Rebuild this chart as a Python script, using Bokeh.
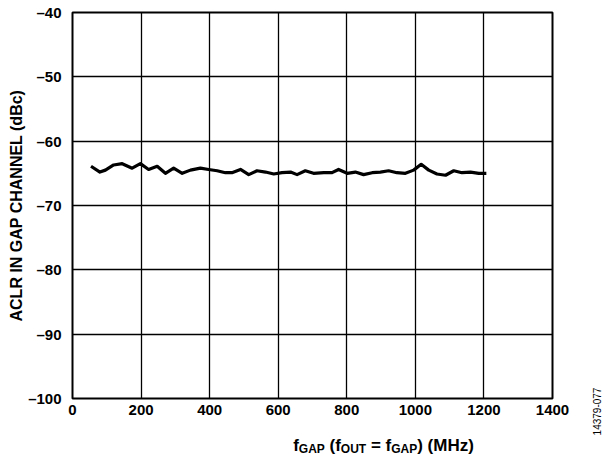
from bokeh.plotting import figure
from bokeh.models import FixedTicker, Range1d
from bokeh.layouts import row, column
from bokeh.core.properties import value
from bokeh.embed import file_html
from bokeh.resources import INLINE

# Data
freq_mhz = [54, 80, 96, 120, 145, 174, 198, 222, 247, 271, 295, 320, 344, 373, 397,
            422, 446, 465, 490, 514, 538, 563, 587, 611, 636, 655, 679, 703, 733,
            757, 776, 801, 825, 849, 874, 898, 922, 946, 971, 995, 1017, 1039, 1063,
            1088, 1112, 1136, 1161, 1185, 1207]
aclr_dbc = [-63.9, -64.8, -64.5, -63.7, -63.5, -64.2, -63.5, -64.4, -63.9, -65.0, -64.2,
            -65.0, -64.5, -64.2, -64.4, -64.6, -64.9, -64.9, -64.4, -65.2, -64.6, -64.8,
            -65.1, -64.9, -64.8, -65.2, -64.6, -65.0, -64.9, -64.9, -64.4, -65.0, -64.8,
            -65.2, -64.9, -64.8, -64.6, -64.9, -65.0, -64.5, -63.6, -64.5, -65.1, -65.3,
            -64.6, -64.9, -64.8, -65.0, -65.0]
x_ticks = [0, 200, 400, 600, 800, 1000, 1200, 1400]
y_ticks = [-100, -90, -80, -70, -60, -50, -40]
y_tick_labels = {t: "\u2013" + str(abs(t)) for t in y_ticks}
x_label_pieces = ["f", "GAP", " (f", "OUT", " = f", "GAP", ") (MHz)"]
x_label_is_sub = [False, True, False, True, False, True, False]
fig_code = "14379-077"

FONT = "Liberation Sans"
W_LEFT = 586   # width of main column
W_CODE = 22    # width of right strip
H_MAIN = 422
H_XLAB = 35

p = figure(frame_width=480, frame_height=386, output_backend="svg", toolbar_location=None,
           x_range=Range1d(0, 1400), y_range=Range1d(-100, -40),
           min_border_left=72, min_border_top=12, min_border_right=34, min_border_bottom=24,
           background_fill_color="white", border_fill_color="white")

p.outline_line_color = "black"
p.outline_line_width = 2

for ax in (p.xaxis[0], p.yaxis[0]):
    ax.axis_line_color = None
    ax.major_tick_line_color = None
    ax.minor_tick_line_color = None
    ax.major_tick_out = 0
    ax.major_tick_in = 0
    ax.minor_tick_out = 0
    ax.minor_tick_in = 0
    ax.major_label_text_font = FONT
    ax.major_label_text_font_style = "bold"
    ax.major_label_text_font_size = "15px"
    ax.major_label_text_color = "black"

p.xaxis.ticker = FixedTicker(ticks=x_ticks)
p.yaxis.ticker = FixedTicker(ticks=y_ticks)
p.yaxis.major_label_overrides = y_tick_labels
p.xaxis.major_label_standoff = 6
p.yaxis.major_label_standoff = 11

p.yaxis.axis_label = "ACLR IN GAP CHANNEL (dBc)"
p.yaxis.axis_label_text_font = FONT
p.yaxis.axis_label_text_font_style = "bold"
p.yaxis.axis_label_text_font_size = "16px"
p.yaxis.axis_label_text_color = "black"
p.yaxis.axis_label_standoff = 0

for g in (p.xgrid[0], p.ygrid[0]):
    g.grid_line_color = "black"
    g.grid_line_width = 1.3
    g.grid_line_alpha = 1.0
p.xgrid.ticker = FixedTicker(ticks=x_ticks)
p.ygrid.ticker = FixedTicker(ticks=y_ticks)

p.line(freq_mhz, aclr_dbc, line_color="black", line_width=3.2, line_join="round")

# x-axis title with subscripts, in a strip below the main plot (pixel coordinates)
px = figure(frame_width=W_LEFT, frame_height=H_XLAB, output_backend="svg",
            toolbar_location=None, x_axis_type=None, y_axis_type=None,
            x_range=Range1d(0, W_LEFT), y_range=Range1d(0, H_XLAB),
            min_border=0, outline_line_color=None,
            background_fill_color="white", border_fill_color="white")
widths = {'f': 333, 'G': 778, 'A': 722, 'P': 667, ' ': 278, '(': 333, ')': 333,
          'O': 778, 'U': 722, 'T': 611, '=': 584, 'M': 833, 'H': 722, 'z': 500}
main_size, sub_size = 17, 12


def text_w(t, size):
    return sum(widths[c] for c in t) * size / 1000.0


total = sum(text_w(t, sub_size if s else main_size)
            for t, s in zip(x_label_pieces, x_label_is_sub))
cur = 311 - total / 2.0
for txt, sub in zip(x_label_pieces, x_label_is_sub):
    size = sub_size if sub else main_size
    stripped = txt.lstrip(" ")
    lead = text_w(txt[:len(txt) - len(stripped)], size)
    px.text(x=[cur + lead], y=[8.5 if sub else 12], text=[stripped], text_font=value(FONT),
            text_font_style="bold", text_font_size=value(f"{size}px"),
            text_color="black", text_align="left", text_baseline="alphabetic")
    cur += text_w(txt, size)

# figure code, rotated, in a narrow strip on the right
pc = figure(frame_width=W_CODE, frame_height=H_MAIN + H_XLAB, output_backend="svg",
            toolbar_location=None, x_axis_type=None, y_axis_type=None,
            x_range=Range1d(0, W_CODE), y_range=Range1d(0, H_MAIN + H_XLAB),
            min_border=0, outline_line_color=None,
            background_fill_color="white", border_fill_color="white")
pc.text(x=[10.5], y=[46], text=[fig_code], angle=1.5707963, text_font=value(FONT),
        text_font_size=value("10px"), text_color="black",
        text_align="center", text_baseline="middle")

layout = row(column(p, px, spacing=0), pc, spacing=0)
open("out.html", "w").write(file_html(layout, INLINE))
